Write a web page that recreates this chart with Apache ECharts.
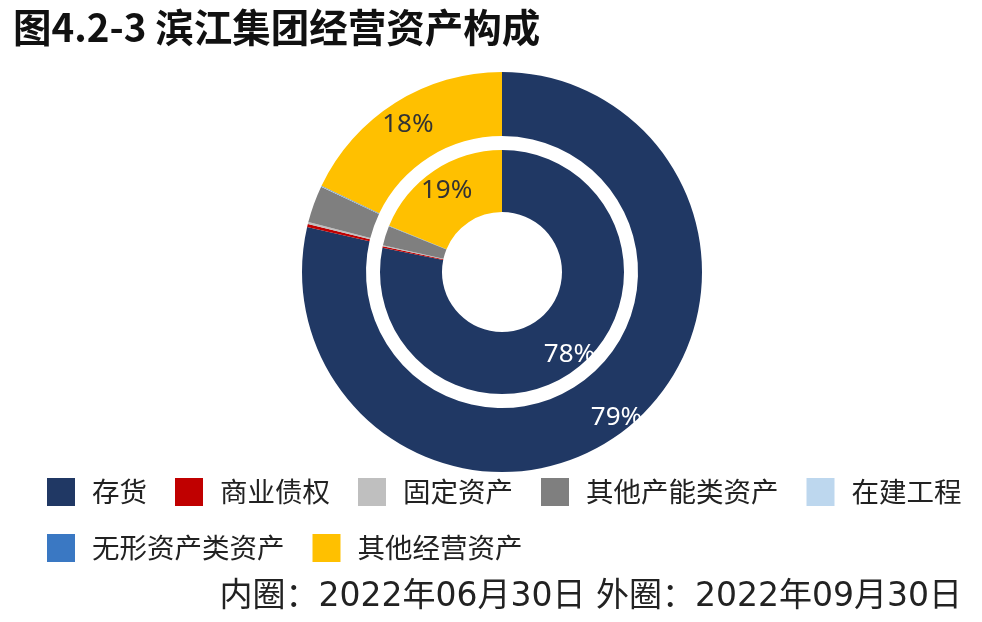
<!DOCTYPE html>
<html>
<head>
<meta charset="utf-8">
<script src="https://cdn.jsdelivr.net/npm/echarts@6/dist/echarts.min.js"></script>
<style>
html,body{margin:0;padding:0;background:#fff;}
#chart{width:982px;height:622px;}
</style>
</head>
<body>
<div id="chart"></div>
<script>
var categories = ['存货', '商业债权', '固定资产', '其他产能类资产', '在建工程', '无形资产类资产', '其他经营资产'];
var colors = ['#203864', '#C00000', '#BFBFBF', '#7F7F7F', '#BDD7EE', '#3A78C3', '#FFC000'];
var innerValues = [78.2, 0.2, 0.12, 2.6, 0.03, 0.05, 18.8];   // 内圈：2022年06月30日
var outerValues = [78.6, 0.25, 0.15, 3.0, 0.03, 0.05, 17.9];  // 外圈：2022年09月30日
var titleText = '图4.2-3 滨江集团经营资产构成';
var noteText = '内圈：2022年06月30日 外圈：2022年09月30日';

var FONT = '"Noto Sans CJK SC", "Noto Sans", sans-serif';
var NUMFONT = '"DejaVu Sans", "Noto Sans CJK SC", sans-serif';
var LABELFONT = '"Noto Sans", sans-serif';

function buildData(values, labelCfg) {
  return categories.map(function (name, i) {
    var item = { name: name, value: values[i], itemStyle: { color: colors[i] } };
    if (labelCfg[i]) {
      item.label = Object.assign({ show: true, position: 'inside', fontFamily: LABELFONT, fontSize: 26, formatter: '{d}%' }, labelCfg[i]);
    } else {
      item.label = { show: false };
    }
    return item;
  });
}

var chart = echarts.init(document.getElementById('chart'));
chart.setOption({
  backgroundColor: '#ffffff',
  animation: false,
  color: colors,
  title: [
    { text: titleText, left: 8, top: 3, padding: [5, 5, 5, 5], textStyle: { fontFamily: FONT, fontSize: 38.5, fontWeight: 'bold', color: '#111' } },
    { text: noteText, right: 15, top: 576, textStyle: { fontFamily: NUMFONT, fontSize: 33, fontWeight: 'normal', color: '#222' } }
  ],
  legend: {
    data: categories,
    left: 47, top: 478, width: 930, padding: 0,
    icon: 'rect', itemWidth: 28, itemHeight: 28, itemGap: 28,
    selectedMode: false,
    textStyle: { fontFamily: FONT, fontSize: 27.5, color: '#222', padding: [0, 0, 0, 12] }
  },
  series: [
    {
      type: 'pie', name: '外圈', radius: [136, 200], center: [502, 272],
      percentPrecision: 0, minAngle: 0, avoidLabelOverlap: false,
      labelLine: { show: false },
      data: buildData(outerValues, { 0: { color: '#fff', offset: [8, 12] }, 6: { color: '#333', offset: [-3, -3] } })
    },
    {
      type: 'pie', name: '内圈', radius: [60, 122], center: [502, 272],
      percentPrecision: 0, minAngle: 0, avoidLabelOverlap: false,
      labelLine: { show: false },
      data: buildData(innerValues, { 0: { color: '#fff', offset: [8, 10] }, 6: { color: '#333', offset: [-3, -3] } })
    }
  ]
});
</script>
</body>
</html>
